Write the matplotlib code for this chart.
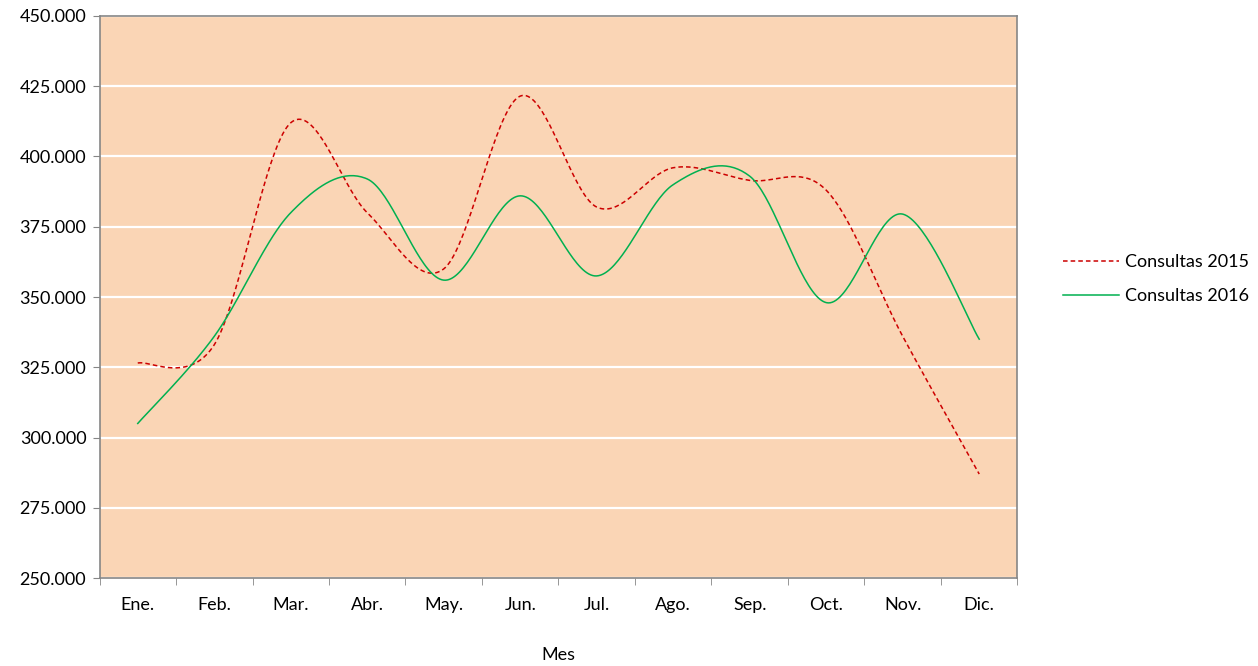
import numpy as np
import matplotlib
matplotlib.use("Agg")
import matplotlib.pyplot as plt
from matplotlib.ticker import FuncFormatter, MultipleLocator

plt.rcParams['font.family'] = ['Lato', 'DejaVu Sans']

meses = ["Ene.", "Feb.", "Mar.", "Abr.", "May.", "Jun.", "Jul.", "Ago.", "Sep.", "Oct.", "Nov.", "Dic."]
consultas_2015 = [326500, 333000, 412000, 380000, 360000, 421500, 382000, 396000, 391500, 388000, 336000, 287000]
consultas_2016 = [305000, 336000, 380000, 392000, 356000, 386000, 357500, 390000, 393000, 348000, 379500, 335000]


def smooth(xs, ys, steps=40):
    """Excel-like smoothed line (Catmull-Rom through every point)"""
    xs = np.asarray(xs, float)
    ys = np.asarray(ys, float)
    px = np.concatenate([[xs[0]], xs, [xs[-1]]])
    py = np.concatenate([[ys[0]], ys, [ys[-1]]])
    out_x, out_y = [], []
    t = np.linspace(0, 1, steps)
    for i in range(1, len(px) - 2):
        x0, x1, x2, x3 = px[i - 1], px[i], px[i + 1], px[i + 2]
        y0, y1, y2, y3 = py[i - 1], py[i], py[i + 1], py[i + 2]
        cx1, cy1 = x1 + (x2 - x0) / 6, y1 + (y2 - y0) / 6
        cx2, cy2 = x2 - (x3 - x1) / 6, y2 - (y3 - y1) / 6
        bx = (1 - t) ** 3 * x1 + 3 * (1 - t) ** 2 * t * cx1 + 3 * (1 - t) * t ** 2 * cx2 + t ** 3 * x2
        by = (1 - t) ** 3 * y1 + 3 * (1 - t) ** 2 * t * cy1 + 3 * (1 - t) * t ** 2 * cy2 + t ** 3 * y2
        out_x.extend(bx)
        out_y.extend(by)
    return np.array(out_x), np.array(out_y)


x = np.arange(len(meses))
fs = 13

fig = plt.figure(figsize=(12.58, 6.66), dpi=100)
ax = fig.add_axes([0.0791, 0.1321, 0.7297, 0.8439])
ax.set_facecolor("#FAD5B5")

sx, sy = smooth(x, consultas_2015)
ax.plot(sx, sy, color="#CC0000", lw=1.1, dashes=(3, 2), label="Consultas 2015", zorder=3)
sx, sy = smooth(x, consultas_2016)
ax.plot(sx, sy, color="#00B050", lw=1.1, label="Consultas 2016", zorder=3)

ax.set_xlim(-0.5, len(meses) - 0.5)
ax.set_ylim(250000, 450000)
ax.yaxis.set_major_locator(MultipleLocator(25000))
ax.yaxis.set_major_formatter(FuncFormatter(lambda v, p: f"{v:,.0f}".replace(",", ".")))
ax.grid(axis="y", color="white", lw=1.6, zorder=1)
ax.set_axisbelow(True)

ax.set_xticks(x)
ax.set_xticklabels(meses)
ax.set_xticks(np.arange(-0.5, len(meses)), minor=True)
ax.tick_params(axis="x", which="major", length=0, pad=13.5, labelsize=fs)
ax.tick_params(axis="x", which="minor", length=5, color="#868686")
ax.tick_params(axis="y", length=5, color="#868686", labelsize=fs, pad=4.5)

for s in ax.spines.values():
    s.set_color("#868686")
    s.set_linewidth(1.2)

ax.set_xlabel("Mes", fontsize=fs, labelpad=25)

ax.legend(loc="center left", bbox_to_anchor=(0.832, 0.581), bbox_transform=fig.transFigure,
          frameon=False, fontsize=fs, handlelength=3.1, handletextpad=0.33, labelspacing=1.0)

fig.savefig("out.png", dpi=100, facecolor="white")
